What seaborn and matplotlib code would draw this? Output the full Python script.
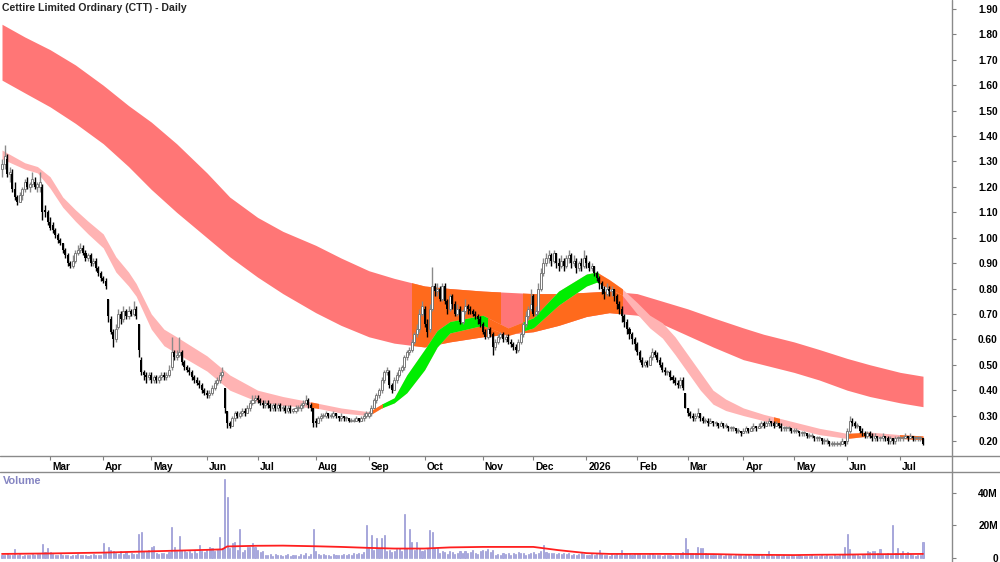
import numpy as np
import pandas as pd
import matplotlib
matplotlib.use('Agg')
import matplotlib.pyplot as plt
import matplotlib.transforms as mtransforms
from matplotlib.patches import Rectangle
from matplotlib.lines import Line2D
import seaborn as sns

# ---- daily OHLC (price, $) and volume (millions) by month ----
o_2025_02 = [1.27,1.29,1.31,1.25,1.25,1.19,1.16,1.14,1.17,1.19,1.22,1.20,1.21,1.22,1.20,1.20,1.20,1.11,1.10]
h_2025_02 = [1.31,1.365,1.33,1.28,1.27,1.22,1.17,1.18,1.20,1.23,1.24,1.22,1.26,1.24,1.22,1.26,1.21,1.13,1.11]
l_2025_02 = [1.24,1.27,1.24,1.22,1.18,1.15,1.13,1.14,1.15,1.18,1.19,1.18,1.20,1.19,1.18,1.18,1.07,1.08,1.05]
c_2025_02 = [1.29,1.32,1.25,1.26,1.19,1.16,1.14,1.17,1.19,1.22,1.20,1.21,1.23,1.20,1.21,1.22,1.10,1.10,1.06]
v_2025_02 = [2.1,1.8,2.4,1.6,2.0,5.5,1.9,2.2,1.5,1.8,2.0,1.7,2.3,1.9,2.6,2.2,8.6,3.5,6.0]

o_2025_03 = [1.06,1.05,1.03,1.01,0.99,0.98,0.95,0.93,0.90,0.89,0.91,0.94,0.95,0.96,0.94,0.92,0.93,0.90,0.91,0.88,0.86]
h_2025_03 = [1.08,1.06,1.04,1.02,1.00,0.98,0.96,0.94,0.91,0.93,0.95,0.97,0.98,0.97,0.95,0.94,0.94,0.92,0.92,0.89,0.87]
l_2025_03 = [1.03,1.02,1.00,0.98,0.97,0.94,0.92,0.89,0.88,0.88,0.90,0.93,0.94,0.93,0.91,0.91,0.89,0.89,0.87,0.85,0.83]
c_2025_03 = [1.04,1.03,1.01,0.99,0.98,0.95,0.93,0.90,0.89,0.91,0.94,0.95,0.96,0.94,0.92,0.93,0.90,0.91,0.88,0.86,0.84]
v_2025_03 = [3.8,2.7,2.0,1.9,2.3,1.6,1.8,2.1,1.5,1.7,1.9,2.2,1.8,1.6,2.0,1.5,1.7,2.4,1.9,2.1,1.8]

o_2025_04 = [0.84,0.83,0.76,0.68,0.63,0.60,0.65,0.70,0.68,0.71,0.69,0.71,0.70,0.72,0.66,0.52,0.47,0.46,0.45]
h_2025_04 = [0.85,0.84,0.76,0.69,0.64,0.66,0.72,0.71,0.73,0.72,0.73,0.72,0.75,0.73,0.66,0.53,0.48,0.47,0.47]
l_2025_04 = [0.82,0.80,0.67,0.62,0.57,0.59,0.64,0.66,0.67,0.68,0.68,0.69,0.69,0.68,0.53,0.46,0.44,0.43,0.44]
c_2025_04 = [0.83,0.81,0.69,0.63,0.60,0.64,0.70,0.68,0.71,0.69,0.71,0.70,0.72,0.69,0.56,0.47,0.46,0.45,0.46]
v_2025_04 = [9,3,7,5,4.5,3,2.5,4,2.2,3.5,2.0,2.8,2.5,2.2,15,16,4,3.5,5]

o_2025_05 = [0.46,0.44,0.45,0.44,0.45,0.46,0.45,0.46,0.49,0.55,0.53,0.54,0.55,0.51,0.49,0.48,0.47,0.45,0.44,0.43,0.42,0.40]
h_2025_05 = [0.47,0.46,0.46,0.46,0.47,0.47,0.47,0.50,0.61,0.56,0.56,0.61,0.56,0.52,0.50,0.49,0.48,0.46,0.45,0.44,0.43,0.41]
l_2025_05 = [0.43,0.43,0.43,0.43,0.44,0.44,0.44,0.45,0.48,0.52,0.52,0.53,0.50,0.48,0.47,0.46,0.44,0.43,0.42,0.41,0.39,0.38]
c_2025_05 = [0.44,0.45,0.44,0.45,0.46,0.45,0.46,0.48,0.55,0.53,0.54,0.55,0.51,0.49,0.48,0.47,0.45,0.44,0.43,0.42,0.40,0.39]
v_2025_05 = [7,7.5,3,2.5,3.2,2.8,2.2,3.5,19,7,4,13.5,5,4,3.5,4.5,3,4,3.2,8,4.5,3.8]

o_2025_06 = [0.39,0.38,0.39,0.41,0.43,0.44,0.46,0.41,0.32,0.27,0.26,0.29,0.31,0.30,0.31,0.32,0.31,0.33,0.35,0.36]
h_2025_06 = [0.40,0.40,0.42,0.44,0.45,0.47,0.49,0.41,0.32,0.28,0.30,0.32,0.32,0.32,0.33,0.33,0.34,0.36,0.38,0.38]
l_2025_06 = [0.37,0.37,0.38,0.40,0.42,0.43,0.45,0.31,0.25,0.25,0.26,0.28,0.29,0.29,0.30,0.30,0.31,0.32,0.34,0.35]
c_2025_06 = [0.38,0.39,0.41,0.43,0.44,0.46,0.47,0.33,0.27,0.26,0.29,0.31,0.30,0.31,0.32,0.31,0.33,0.35,0.36,0.37]
v_2025_06 = [5,7,6,4.5,5.5,13,6,48.5,37.5,6,9,10,5,18,3.5,5,7,6.5,9,7]

o_2025_07 = [0.37,0.36,0.35,0.34,0.35,0.34,0.33,0.34,0.33,0.34,0.33,0.33,0.32,0.33,0.32,0.32,0.33,0.33,0.34,0.35,0.36,0.34,0.33]
h_2025_07 = [0.38,0.37,0.36,0.36,0.36,0.35,0.35,0.35,0.35,0.35,0.34,0.34,0.34,0.34,0.33,0.34,0.34,0.35,0.36,0.38,0.37,0.35,0.33]
l_2025_07 = [0.35,0.34,0.33,0.33,0.33,0.32,0.32,0.32,0.32,0.32,0.32,0.31,0.31,0.31,0.31,0.31,0.32,0.32,0.33,0.34,0.33,0.32,0.255]
c_2025_07 = [0.36,0.35,0.34,0.35,0.34,0.33,0.34,0.33,0.34,0.33,0.33,0.32,0.33,0.32,0.32,0.33,0.33,0.34,0.35,0.36,0.34,0.33,0.27]
v_2025_07 = [5,3.5,4,2,1.8,2.5,1.5,2.2,1.6,2.0,1.4,1.8,2.3,1.5,1.9,2.1,1.3,2.4,2.0,3.0,1.5,2.2,17.5]

o_2025_08 = [0.28,0.27,0.29,0.30,0.30,0.31,0.30,0.30,0.31,0.30,0.29,0.30,0.29,0.29,0.28,0.28,0.28,0.29,0.28,0.29,0.30]
h_2025_08 = [0.29,0.30,0.31,0.31,0.32,0.31,0.31,0.32,0.31,0.30,0.31,0.30,0.30,0.29,0.29,0.29,0.30,0.29,0.30,0.31,0.32]
l_2025_08 = [0.255,0.27,0.28,0.29,0.29,0.29,0.29,0.29,0.29,0.28,0.28,0.28,0.28,0.275,0.275,0.275,0.28,0.275,0.28,0.28,0.29]
c_2025_08 = [0.27,0.29,0.30,0.30,0.31,0.30,0.30,0.31,0.30,0.29,0.30,0.29,0.29,0.28,0.28,0.28,0.29,0.28,0.29,0.30,0.31]
v_2025_08 = [4,2.5,1.8,2.6,1.9,2.0,1.5,2.4,2.1,1.7,1.8,2.3,1.6,2.5,1.9,2.8,2.2,3.0,2.5,3.5,20]

o_2025_09 = [0.30,0.31,0.33,0.36,0.38,0.40,0.44,0.47,0.47,0.42,0.40,0.44,0.46,0.48,0.49,0.53,0.55,0.56,0.59,0.62,0.64,0.70]
h_2025_09 = [0.32,0.34,0.37,0.39,0.41,0.45,0.48,0.49,0.48,0.43,0.45,0.47,0.49,0.50,0.54,0.56,0.57,0.60,0.63,0.66,0.72,0.75]
l_2025_09 = [0.29,0.30,0.33,0.35,0.37,0.39,0.43,0.46,0.41,0.39,0.40,0.43,0.45,0.47,0.48,0.52,0.54,0.55,0.58,0.61,0.63,0.69]
c_2025_09 = [0.31,0.33,0.36,0.38,0.40,0.44,0.47,0.48,0.42,0.40,0.44,0.46,0.48,0.49,0.53,0.55,0.56,0.59,0.62,0.64,0.70,0.73]
v_2025_09 = [6,14,5,12,6,12,14,4,5,3.5,4,5.5,6,4.5,27,6,18,10,5,10,6,4.5]

o_2025_10 = [0.72,0.66,0.64,0.72,0.81,0.79,0.80,0.76,0.81,0.75,0.72,0.77,0.74,0.70,0.72,0.67,0.71,0.73,0.72,0.71,0.70,0.69,0.68]
h_2025_10 = [0.73,0.68,0.74,0.885,0.82,0.82,0.81,0.82,0.82,0.76,0.78,0.78,0.75,0.74,0.73,0.72,0.76,0.74,0.73,0.72,0.71,0.70,0.69]
l_2025_10 = [0.65,0.61,0.63,0.71,0.77,0.77,0.75,0.75,0.74,0.70,0.71,0.72,0.69,0.69,0.66,0.66,0.70,0.70,0.70,0.69,0.68,0.66,0.65]
c_2025_10 = [0.66,0.63,0.72,0.81,0.79,0.80,0.76,0.81,0.75,0.72,0.77,0.74,0.70,0.72,0.67,0.71,0.73,0.72,0.71,0.70,0.69,0.68,0.66]
v_2025_10 = [5,6,17,16,6,6,3,4.5,3.5,2.5,4,3.8,2.5,3,4.5,3.2,4,2.8,3.5,5,3,2.5,4.5]

o_2025_11 = [0.66,0.63,0.61,0.64,0.62,0.57,0.59,0.61,0.62,0.60,0.61,0.59,0.58,0.57,0.56,0.59,0.62,0.66,0.69,0.72]
h_2025_11 = [0.67,0.64,0.65,0.65,0.63,0.60,0.62,0.63,0.63,0.62,0.62,0.60,0.59,0.58,0.60,0.63,0.67,0.71,0.73,0.80]
l_2025_11 = [0.62,0.60,0.60,0.61,0.54,0.56,0.58,0.60,0.59,0.59,0.58,0.57,0.56,0.546,0.55,0.58,0.61,0.65,0.68,0.71]
c_2025_11 = [0.63,0.61,0.64,0.62,0.57,0.59,0.61,0.62,0.60,0.61,0.59,0.58,0.57,0.56,0.59,0.62,0.66,0.69,0.72,0.74]
v_2025_11 = [5,4,5.5,3.5,5,2,2.5,1.8,3,2.2,2.8,2,3.2,2.5,3.5,2.8,3.2,2.0,2.5,3.0]

o_2025_12 = [0.77,0.70,0.71,0.80,0.86,0.90,0.92,0.93,0.91,0.94,0.90,0.89,0.91,0.89,0.92,0.93,0.90,0.91,0.88,0.90,0.89]
h_2025_12 = [0.78,0.73,0.82,0.88,0.92,0.94,0.95,0.94,0.95,0.94,0.92,0.93,0.92,0.93,0.95,0.94,0.93,0.92,0.91,0.92,0.95]
l_2025_12 = [0.69,0.69,0.70,0.79,0.85,0.89,0.90,0.89,0.90,0.88,0.87,0.88,0.87,0.88,0.90,0.88,0.89,0.86,0.87,0.87,0.88]
c_2025_12 = [0.70,0.71,0.80,0.86,0.90,0.92,0.93,0.91,0.94,0.90,0.89,0.91,0.89,0.92,0.93,0.90,0.91,0.88,0.90,0.89,0.92]
v_2025_12 = [3.5,2.5,3,4,8,3.5,3,2.8,3.2,2.5,2.8,2.2,3,2.5,3.2,2.0,2.4,1.8,2.2,3,2.5]

o_2026_01 = [0.92,0.90,0.88,0.89,0.86,0.84,0.82,0.80,0.78,0.80,0.79,0.80,0.77,0.74,0.72,0.69,0.67,0.64,0.62,0.60]
h_2026_01 = [0.93,0.91,0.90,0.89,0.87,0.85,0.83,0.81,0.82,0.81,0.81,0.80,0.78,0.75,0.73,0.70,0.68,0.65,0.63,0.61]
l_2026_01 = [0.88,0.87,0.87,0.85,0.83,0.80,0.78,0.76,0.77,0.77,0.77,0.75,0.72,0.70,0.67,0.65,0.62,0.60,0.58,0.56]
c_2026_01 = [0.90,0.88,0.89,0.86,0.84,0.82,0.80,0.78,0.80,0.79,0.80,0.77,0.74,0.72,0.69,0.67,0.64,0.62,0.60,0.58]
v_2026_01 = [2,1.8,2.5,1.6,2.2,5,2.5,2,1.8,1.5,2.4,1.9,2.2,1.7,5,2.8,2.5,2.2,1.8,2.4]

o_2026_02 = [0.58,0.55,0.52,0.50,0.51,0.50,0.53,0.55,0.54,0.52,0.50,0.48,0.47,0.47,0.45,0.44,0.43,0.42,0.44,0.39]
h_2026_02 = [0.59,0.56,0.53,0.52,0.52,0.54,0.565,0.56,0.55,0.53,0.51,0.49,0.48,0.48,0.46,0.45,0.44,0.45,0.45,0.39]
l_2026_02 = [0.54,0.51,0.49,0.49,0.49,0.50,0.52,0.53,0.51,0.49,0.47,0.46,0.46,0.44,0.43,0.42,0.41,0.41,0.40,0.33]
c_2026_02 = [0.55,0.52,0.50,0.51,0.50,0.53,0.55,0.54,0.52,0.50,0.48,0.47,0.47,0.45,0.44,0.43,0.42,0.44,0.41,0.33]
v_2026_02 = [2.2,2.6,1.8,2,1.6,2.3,2.8,1.9,1.7,2.1,1.5,1.8,1.6,2.0,1.4,1.7,1.9,2.2,3.5,12]

o_2026_03 = [0.33,0.31,0.30,0.29,0.30,0.31,0.29,0.28,0.28,0.27,0.28,0.27,0.27,0.26,0.27,0.26,0.26,0.25,0.25,0.25,0.24,0.24]
h_2026_03 = [0.33,0.32,0.31,0.31,0.33,0.31,0.30,0.29,0.29,0.29,0.28,0.28,0.27,0.28,0.27,0.27,0.26,0.26,0.26,0.25,0.25,0.24]
l_2026_03 = [0.30,0.29,0.28,0.28,0.29,0.28,0.27,0.27,0.26,0.27,0.26,0.26,0.25,0.26,0.25,0.25,0.24,0.24,0.24,0.23,0.23,0.22]
c_2026_03 = [0.31,0.30,0.29,0.30,0.31,0.29,0.28,0.28,0.27,0.28,0.27,0.27,0.26,0.27,0.26,0.26,0.25,0.25,0.25,0.24,0.24,0.23]
v_2026_03 = [5.5,3,2.8,3.2,6.5,6,6,3,2.2,1.8,2.0,1.6,1.9,2.4,1.5,1.8,2.0,1.7,1.4,1.9,1.6,1.8]

o_2026_04 = [0.23,0.24,0.25,0.24,0.25,0.26,0.25,0.26,0.27,0.26,0.27,0.28,0.27,0.26,0.27,0.26,0.25,0.25,0.25,0.25]
h_2026_04 = [0.25,0.26,0.25,0.26,0.27,0.26,0.27,0.28,0.28,0.28,0.29,0.28,0.28,0.28,0.27,0.27,0.26,0.26,0.26,0.25]
l_2026_04 = [0.23,0.23,0.23,0.24,0.24,0.24,0.25,0.25,0.25,0.26,0.26,0.26,0.25,0.26,0.25,0.24,0.24,0.24,0.24,0.23]
c_2026_04 = [0.24,0.25,0.24,0.25,0.26,0.25,0.26,0.27,0.26,0.27,0.28,0.27,0.26,0.27,0.26,0.25,0.25,0.25,0.25,0.24]
v_2026_04 = [1.5,2.0,1.7,1.4,1.9,1.6,2.2,1.8,1.5,2.0,4,1.8,1.5,2.1,1.6,1.3,1.8,1.5,1.2,1.6]

o_2026_05 = [0.24,0.24,0.24,0.23,0.23,0.23,0.22,0.22,0.22,0.21,0.21,0.21,0.20,0.20,0.20,0.19,0.19,0.19,0.19,0.19,0.20]
h_2026_05 = [0.25,0.25,0.24,0.24,0.24,0.23,0.23,0.23,0.22,0.22,0.22,0.21,0.21,0.21,0.20,0.20,0.20,0.20,0.20,0.21,0.20]
l_2026_05 = [0.23,0.23,0.22,0.22,0.22,0.21,0.21,0.21,0.20,0.20,0.20,0.19,0.19,0.19,0.18,0.18,0.18,0.18,0.18,0.19,0.18]
c_2026_05 = [0.24,0.24,0.23,0.23,0.23,0.22,0.22,0.22,0.21,0.21,0.21,0.20,0.20,0.20,0.19,0.19,0.19,0.19,0.19,0.20,0.19]
v_2026_05 = [1.4,1.1,1.6,1.2,1.5,1.0,1.3,1.7,1.2,1.4,1.1,1.6,1.3,1.8,1.5,1.2,1.9,1.4,2.0,2.5,7]

o_2026_06 = [0.20,0.24,0.28,0.27,0.26,0.26,0.24,0.23,0.22,0.23,0.22,0.21,0.22,0.21,0.21,0.22,0.21,0.20,0.21,0.20,0.21]
h_2026_06 = [0.25,0.30,0.29,0.28,0.27,0.26,0.25,0.24,0.24,0.24,0.23,0.23,0.22,0.22,0.23,0.22,0.22,0.22,0.21,0.22,0.22]
l_2026_06 = [0.19,0.23,0.26,0.25,0.25,0.23,0.22,0.21,0.21,0.21,0.20,0.20,0.20,0.20,0.20,0.20,0.19,0.19,0.19,0.19,0.20]
c_2026_06 = [0.24,0.28,0.27,0.26,0.26,0.24,0.23,0.22,0.23,0.22,0.21,0.22,0.21,0.21,0.22,0.21,0.20,0.21,0.20,0.21,0.21]
v_2026_06 = [15,5.5,2.5,2.0,1.8,1.5,2.2,1.8,4,3.5,4.5,4,3,5.5,2.5,2,3,1.8,20,3,6]

o_2026_07 = [0.21,0.21,0.21,0.22,0.21,0.22,0.21,0.21,0.21,0.21]
h_2026_07 = [0.22,0.22,0.23,0.22,0.23,0.22,0.22,0.22,0.22,0.21]
l_2026_07 = [0.20,0.20,0.21,0.20,0.21,0.20,0.20,0.20,0.20,0.185]
c_2026_07 = [0.21,0.21,0.22,0.21,0.22,0.21,0.21,0.21,0.21,0.19]
v_2026_07 = [2.5,4.5,2,3.5,2.2,1.8,1.5,2,1.6,10]

months = ['2025_02', '2025_03', '2025_04', '2025_05', '2025_06', '2025_07', '2025_08',
          '2025_09', '2025_10', '2025_11', '2025_12', '2026_01', '2026_02', '2026_03',
          '2026_04', '2026_05', '2026_06', '2026_07']

# ---- trend ribbons ----
band_dates = ['2025-02-01','2025-02-15','2025-03-01','2025-03-15','2025-04-01','2025-04-15',
              '2025-05-01','2025-05-15','2025-06-01','2025-06-15','2025-07-01','2025-07-15',
              '2025-08-01','2025-08-15','2025-09-01','2025-09-15','2025-10-01','2025-10-15',
              '2025-11-01','2025-11-15','2025-12-01','2025-12-15','2026-01-01','2026-01-15',
              '2026-02-01','2026-02-15','2026-03-01','2026-03-15','2026-04-01','2026-04-15',
              '2026-05-01','2026-05-15','2026-06-01','2026-06-15','2026-07-01','2026-07-14']
long_top = [1.84,1.79,1.74,1.68,1.60,1.52,1.455,1.37,1.255,1.16,1.08,1.025,0.97,0.92,0.87,0.84,
            0.81,0.80,0.79,0.785,0.78,0.78,0.785,0.79,0.78,0.75,0.72,0.685,0.645,0.62,0.59,
            0.56,0.525,0.50,0.47,0.455]
long_bot = [1.62,1.57,1.515,1.45,1.37,1.28,1.19,1.10,1.00,0.925,0.845,0.78,0.705,0.655,0.61,
            0.585,0.57,0.59,0.61,0.62,0.63,0.655,0.69,0.705,0.695,0.66,0.615,0.57,0.52,0.50,
            0.47,0.44,0.40,0.375,0.35,0.335]

vol_ma_dates = ['2025-02-01','2025-03-01','2025-04-01','2025-05-01','2025-06-01','2025-06-11',
                '2025-06-13','2025-07-01','2025-07-15','2025-08-01','2025-08-15','2025-09-01',
                '2025-09-15','2025-10-01','2025-10-15','2025-11-01','2025-12-01','2025-12-15',
                '2026-01-01','2026-01-15','2026-02-15','2026-03-15','2026-04-01','2026-05-01',
                '2026-05-15','2026-06-01','2026-06-15','2026-07-14']
vol_ma = [2.5,2.8,3.3,4.1,5.0,5.3,7.1,7.5,7.6,7.2,6.8,6.2,5.8,5.8,6.5,6.8,6.8,4.8,
          3.0,2.5,2.5,2.4,2.0,1.8,2.0,2.1,2.3,2.5]

short_dates = ['2025-02-01','2025-02-15','2025-02-22','2025-03-01','2025-03-08','2025-03-15',
               '2025-03-22','2025-04-01','2025-04-08','2025-04-15','2025-04-22','2025-05-01',
               '2025-05-08','2025-05-15','2025-06-01','2025-06-15','2025-07-01','2025-07-15',
               '2025-08-01','2025-08-15','2025-09-01','2025-09-08','2025-09-15','2025-09-22',
               '2025-10-01','2025-10-08','2025-10-15','2025-11-01','2025-11-15','2025-12-01',
               '2025-12-15','2026-01-01','2026-01-08','2026-01-15','2026-01-22','2026-02-01',
               '2026-02-08','2026-02-15','2026-02-22','2026-03-01','2026-03-08','2026-03-15',
               '2026-03-22','2026-04-01','2026-04-15','2026-05-01','2026-05-15','2026-06-01',
               '2026-06-15','2026-07-01','2026-07-14']
short_top = [1.345,1.295,1.28,1.24,1.16,1.11,1.065,1.015,0.925,0.865,0.82,0.70,0.64,0.61,0.535,
             0.46,0.40,0.375,0.35,0.33,0.315,0.345,0.37,0.46,0.56,0.635,0.67,0.695,0.645,0.685,
             0.79,0.857,0.865,0.835,0.80,0.745,0.695,0.665,0.61,0.54,0.47,0.40,0.365,0.33,0.305,
             0.275,0.25,0.23,0.235,0.225,0.22]
short_bot = [1.31,1.27,1.255,1.195,1.12,1.065,1.015,0.96,0.865,0.81,0.77,0.64,0.575,0.545,0.475,
             0.40,0.355,0.34,0.33,0.31,0.30,0.33,0.35,0.39,0.48,0.57,0.625,0.655,0.615,0.645,
             0.735,0.81,0.825,0.80,0.775,0.70,0.645,0.605,0.54,0.47,0.40,0.345,0.32,0.30,0.28,
             0.25,0.225,0.21,0.22,0.21,0.205]

long_orange = [('2025-09-24', '2025-11-12'), ('2025-11-25', '2026-01-22')]
short_green = [('2025-09-08', '2025-11-05'), ('2025-11-25', '2026-01-09')]
short_orange = [('2025-07-30', '2025-08-04'), ('2025-09-01', '2025-09-08'),
                ('2025-11-05', '2025-11-25'), ('2026-01-09', '2026-01-22'),
                ('2026-04-21', '2026-04-23'), ('2026-06-01', '2026-06-15'),
                ('2026-07-01', '2026-07-14')]

month_starts = ['2025-03-01','2025-04-01','2025-05-01','2025-06-01','2025-07-01','2025-08-01',
                '2025-09-01','2025-10-01','2025-11-01','2025-12-01','2026-01-01','2026-02-01',
                '2026-03-01','2026-04-01','2026-05-01','2026-06-01','2026-07-01']
month_labels = ['Mar','Apr','May','Jun','Jul','Aug','Sep','Oct','Nov','Dec','2026','Feb',
                'Mar','Apr','May','Jun','Jul']

asx_holidays = ['2025-04-18','2025-04-21','2025-04-25','2025-06-09','2025-12-25','2025-12-26',
                '2026-01-01','2026-01-26','2026-04-03','2026-04-06','2026-06-08']

o = np.concatenate([globals()['o_' + m] for m in months])
h = np.concatenate([globals()['h_' + m] for m in months])
l = np.concatenate([globals()['l_' + m] for m in months])
c = np.concatenate([globals()['c_' + m] for m in months])
v = np.concatenate([globals()['v_' + m] for m in months])

days = pd.bdate_range('2025-02-04', '2026-07-14', freq='C', holidays=asx_holidays)
n = min(len(days), len(c))
x = np.arange(n)
o, h, l, c, v = o[:n], h[:n], l[:n], c[:n], v[:n]


def pos(d):
    return int(min(days.searchsorted(pd.Timestamp(d)), n - 1))


sns.set_style('white')
plt.rcParams['font.family'] = ['Liberation Sans', 'DejaVu Sans']

fig = plt.figure(figsize=(10, 5.62), dpi=100)
ax = fig.add_axes([0, 106 / 562, 0.952, 456 / 562])
axv = fig.add_axes([0, 0, 0.952, 90 / 562])

RED = '#ff7676'
ORANGE = '#ff6a1c'
PINK = '#ffb3b3'
GREEN = '#00ee00'


def band(xs, lo, hi, color, spans=None):
    coll = ax.fill_between(xs, lo, hi, color=color, lw=0, zorder=1)
    if spans is not None:
        tr = mtransforms.blended_transform_factory(ax.transData, ax.transAxes)
        x0, x1 = pos(spans[0]), pos(spans[1])
        rect = Rectangle((x0, 0), x1 - x0, 1, transform=tr)
        coll.set_clip_path(rect)
    return coll


bx = [pos(d) for d in band_dates]
sx = [pos(d) for d in short_dates]
mx = [pos(d) for d in vol_ma_dates]

band(bx, long_bot, long_top, RED)
for s in long_orange:
    band(bx, long_bot, long_top, ORANGE, s)
band(sx, short_bot, short_top, PINK)
for s in short_green:
    band(sx, short_bot, short_top, GREEN, s)
for s in short_orange:
    band(sx, short_bot, short_top, ORANGE, s)

# candles
up = c >= o
body_lo = np.minimum(o, c)
body_h = np.maximum(np.abs(c - o), 0.004)
ax.vlines(x[up], l[up], h[up], color='#8a8a8a', lw=1.0, zorder=3)
ax.vlines(x[~up], l[~up], h[~up], color='black', lw=1.0, zorder=3)
ax.bar(x[up], body_h[up], bottom=body_lo[up], width=0.8, facecolor='white',
       edgecolor='#7a7a7a', lw=0.7, zorder=4)
ax.bar(x[~up], body_h[~up], bottom=body_lo[~up], width=0.8, color='black', lw=0, zorder=4)

ppd = 921 / 364
xlim = (-2 / ppd, 950 / ppd)
ax.set_xlim(*xlim)
ax.set_ylim(0.20 - 15 / 254, 1.90 + 9 / 254)

# volume
axv.bar(x, v, width=0.42, facecolor='#a9a9e2', edgecolor='#8686cc', lw=0.4, zorder=2)
sns.lineplot(x=mx, y=vol_ma, ax=axv, color='#ff1f1f', lw=1.3, zorder=3)
axv.set_xlim(*xlim)
axv.set_ylim(-4 / 1.63, 86 / 1.63)

for a in (ax, axv):
    for sp in a.spines.values():
        sp.set_visible(False)
    a.set_facecolor('white')
    a.yaxis.tick_right()

# price axis labels
yt = np.round(np.arange(0.2, 1.901, 0.1), 2)
ax.set_yticks(yt)
ax.set_yticklabels([f'{t:.2f}' for t in yt])
ax.tick_params(axis='y', right=True, direction='out', length=3, width=0.8, color='#808080',
               pad=30, labelsize=7.3, labelcolor='black')
for lbl in ax.get_yticklabels():
    lbl.set_horizontalalignment('right')
    lbl.set_fontweight('bold')

ax.set_xticks([pos(d) for d in month_starts])
ax.set_xticklabels(month_labels)
ax.tick_params(axis='x', bottom=True, direction='out', length=3, width=0.8, color='#808080',
               pad=1.5, labelsize=7.3, labelcolor='black')
shift = mtransforms.ScaledTranslation(0.02, 0, fig.dpi_scale_trans)
for lbl in ax.get_xticklabels():
    lbl.set_horizontalalignment('left')
    lbl.set_fontweight('bold')
    lbl.set_transform(lbl.get_transform() + shift)

axv.set_xticks([])
axv.set_yticks([0, 20, 40])
axv.set_yticklabels(['0', '20M', '40M'])
axv.tick_params(axis='y', right=True, direction='out', length=3, width=0.8, color='#808080',
                pad=30, labelsize=7.3, labelcolor='black')
for lbl in axv.get_yticklabels():
    lbl.set_horizontalalignment('right')
    lbl.set_fontweight('bold')

# frame lines
for yy in (456, 472):
    fig.add_artist(Line2D([0, 1], [1 - yy / 562] * 2, transform=fig.transFigure,
                          color='#8a8a8a', lw=1))
fig.add_artist(Line2D([0.952, 0.952], [0, 1], transform=fig.transFigure, color='#8a8a8a', lw=1))

fig.text(0.002, 1 - 8 / 562, 'Cettire Limited Ordinary (CTT) - Daily', fontsize=7.6,
         fontweight='bold', va='center', ha='left')
fig.text(0.003, 1 - 481 / 562, 'Volume', fontsize=7.8, fontweight='bold', color='#8585c2',
         va='center', ha='left')

fig.savefig('out.png', dpi=100)
